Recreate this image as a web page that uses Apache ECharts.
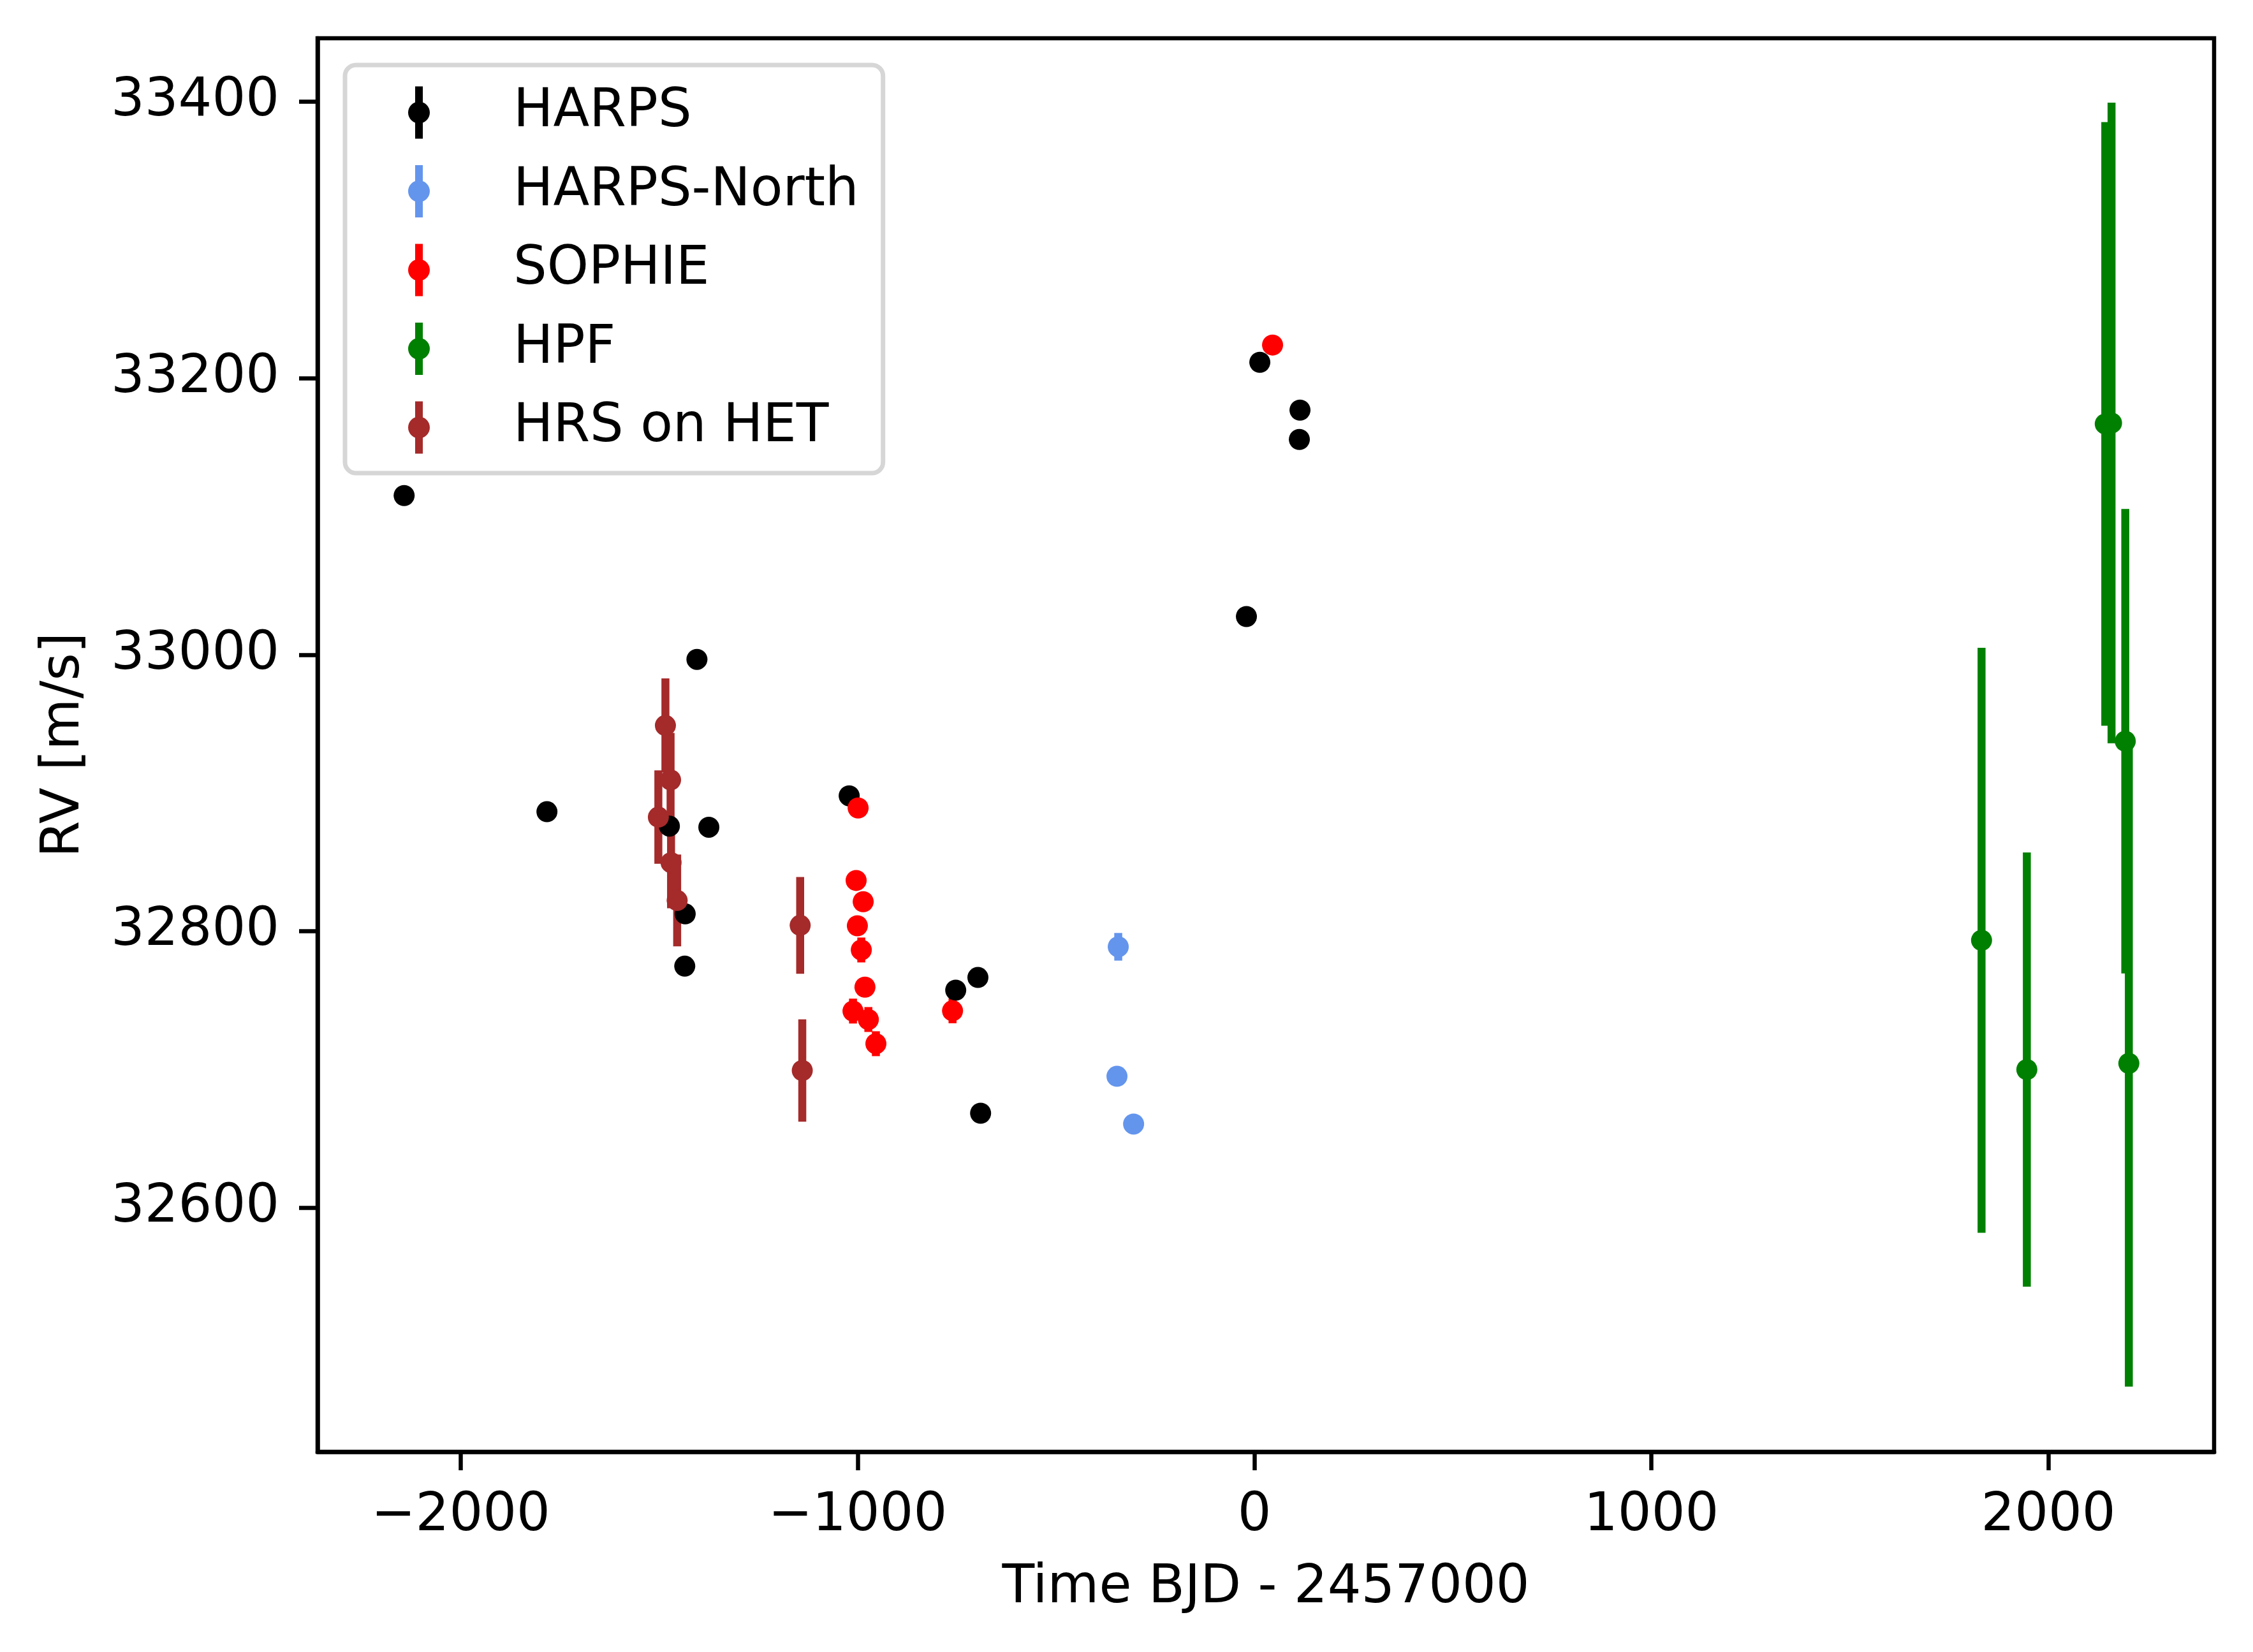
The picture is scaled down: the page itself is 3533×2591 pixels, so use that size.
<!DOCTYPE html>
<html>
<head>
<meta charset="utf-8">
<script src="https://cdn.jsdelivr.net/npm/echarts@6/dist/echarts.min.js"></script>
<style>
html,body{margin:0;padding:0;background:#fff;}
#chart{width:3533px;height:2591px;}
</style>
</head>
<body>
<div id="chart"></div>
<script>
// ---- data: [time BJD-2457000, RV m/s, error m/s] ----
const seriesNames = ['HARPS', 'HARPS-North', 'SOPHIE', 'HPF', 'HRS on HET'];
const seriesColors = ['#000000', '#6495ED', '#FF0000', '#008000', '#A52A2A'];

const harps = [
  [-2142.5, 33115.2, 2.0], [-1782.7, 32886.5, 2.0], [-1474.2, 32876.1, 2.0],
  [-1434.4, 32812.6, 2.0], [-1435.5, 32774.8, 2.0], [-1404.8, 32996.7, 2.0],
  [-1374.8, 32875.3, 2.0], [-1021.2, 32898.0, 2.0], [-752.8, 32757.4, 2.0],
  [-696.9, 32766.6, 2.0], [-690.1, 32668.4, 2.0], [-20.4, 33027.7, 2.0],
  [13.4, 33211.6, 2.0], [114.6, 33177.0, 2.0], [113.0, 33155.8, 2.0]
];
const harpsNorth = [
  [-343.3, 32788.8, 10.0], [-346.5, 32695.1, 4.0], [-304.6, 32660.6, 4.0]
];
const sophie = [
  [45.5, 33224.1, 6.0], [-998.7, 32889.2, 6.0], [-1003.7, 32836.8, 6.0],
  [-985.9, 32821.4, 6.0], [-1000.6, 32804.0, 6.0], [-990.7, 32786.5, 9.0],
  [-981.5, 32759.6, 7.0], [-1011.6, 32742.3, 9.0], [-972.9, 32736.2, 9.0],
  [-953.9, 32718.7, 9.0], [-760.8, 32742.5, 9.0]
];
const hpf = [
  [1831.8, 32793.5, 211.6], [1945.9, 32700.0, 157.0], [2143.5, 33167.0, 218.3],
  [2159.3, 33167.7, 231.7], [2193.9, 32937.5, 168.0], [2202.9, 32704.5, 233.8]
];
const hrs = [
  [-1502.0, 32882.6, 33.8], [-1484.2, 32948.9, 34.0], [-1471.2, 32909.5, 34.0],
  [-1470.0, 32849.7, 33.0], [-1454.6, 32822.3, 33.2], [-1144.7, 32804.3, 35.0],
  [-1139.4, 32699.3, 37.0]
];
const allData = [harps, harpsNorth, sophie, hpf, hrs];

const xTicks = [-2000, -1000, 0, 1000, 2000];
const yTicks = [32600, 32800, 33000, 33200, 33400];
const xRange = [-2360.6, 2417.7];
const yRange = [32423.5, 33446.0];

// ---- chart ----
const FONT = 'DejaVu Sans';
const FS = 83;
const chart = echarts.init(document.getElementById('chart'), null, {renderer: 'canvas'});

function errRender(color) {
  return function (params, api) {
    const x = api.value(0), y = api.value(1), e = api.value(2);
    const p1 = api.coord([x, y - e]);
    const p2 = api.coord([x, y + e]);
    return {
      type: 'line',
      shape: {x1: p1[0], y1: p1[1], x2: p2[0], y2: p2[1]},
      style: {stroke: color, lineWidth: 12.5, lineCap: 'butt'}
    };
  };
}

const series = [];
seriesNames.forEach(function (name, i) {
  series.push({
    type: 'custom', name: name, data: allData[i],
    encode: {x: 0, y: 1},
    itemStyle: {color: seriesColors[i]},
    renderItem: errRender(seriesColors[i]),
    silent: true
  });
  series.push({
    type: 'scatter', name: name, data: allData[i].map(function (d) { return [d[0], d[1]]; }),
    symbol: 'circle', symbolSize: 33,
    itemStyle: {color: seriesColors[i], opacity: 1},
    silent: true
  });
});

const legendIcon = 'path://M11,0H23V82H11Z M34,41A17,17 0 1,1 0,41A17,17 0 1,1 34,41Z';
const minus = function (v) { return String(v).replace('-', '\u2212'); };

chart.setOption({
  animation: false,
  backgroundColor: '#ffffff',
  textStyle: {fontFamily: FONT},
  grid: {
    left: 498, right: 61, top: 60, bottom: 314,
    show: true, borderColor: '#000', borderWidth: 6.5, backgroundColor: 'transparent'
  },
  legend: {
    orient: 'vertical',
    left: 541, top: 102,
    padding: [33, 38, 30, 99],
    itemWidth: 34, itemHeight: 82, itemGap: 40.5,
    backgroundColor: 'rgba(255,255,255,0.8)',
    borderColor: '#d6d6d6', borderWidth: 7, borderRadius: 17,
    itemStyle: {borderWidth: 0},
    textStyle: {fontFamily: FONT, fontSize: FS, color: '#000', padding: [0, 0, 0, 126], lineHeight: 82},
    data: seriesNames.map(function (n) { return {name: n, icon: legendIcon}; }),
    selectedMode: false
  },
  xAxis: {
    type: 'value', min: xRange[0], max: xRange[1],
    name: 'Time BJD - 2457000', nameLocation: 'middle', nameGap: 173,
    nameTextStyle: {fontFamily: FONT, fontSize: FS, color: '#000'},
    axisLine: {show: true, onZero: false, lineStyle: {color: '#000', width: 6.5}},
    axisTick: {show: true, inside: false, length: 29, lineStyle: {color: '#000', width: 6.5}, customValues: xTicks},
    axisLabel: {show: true, margin: 60, fontFamily: FONT, fontSize: FS, color: '#000', customValues: xTicks, formatter: minus},
    splitLine: {show: false}
  },
  yAxis: {
    type: 'value', min: yRange[0], max: yRange[1],
    name: 'RV [m/s]', nameLocation: 'middle', nameGap: 355, nameRotate: 90,
    nameTextStyle: {fontFamily: FONT, fontSize: FS, color: '#000'},
    axisLine: {show: true, onZero: false, lineStyle: {color: '#000', width: 6.5}},
    axisTick: {show: true, inside: false, length: 29, lineStyle: {color: '#000', width: 6.5}, customValues: yTicks},
    axisLabel: {show: true, margin: 60, fontFamily: FONT, fontSize: FS, color: '#000', customValues: yTicks, formatter: minus, padding: [14, 0, 0, 0]},
    splitLine: {show: false}
  },
  series: series
});
</script>
</body>
</html>
